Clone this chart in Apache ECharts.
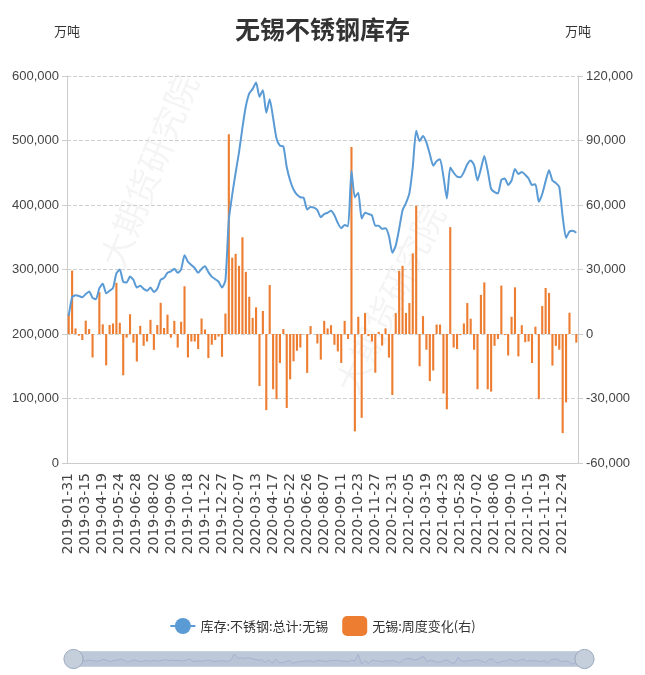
<!DOCTYPE html>
<html>
<head>
<meta charset="utf-8">
<script src="https://cdn.jsdelivr.net/npm/echarts@6/dist/echarts.min.js"></script>
<style>
  html, body {margin:0; padding:0; background:#fff;}
  #container {width:645px; height:675px;}
</style>
</head>
<body>
<div id="container"></div>
<script>
// weekly dates
var dates = [
  '2019-01-31','2019-02-15','2019-02-22','2019-03-01','2019-03-08',
  '2019-03-15','2019-03-22','2019-03-29','2019-04-04','2019-04-12',
  '2019-04-19','2019-04-26','2019-05-05','2019-05-10','2019-05-17',
  '2019-05-24','2019-05-31','2019-06-06','2019-06-14','2019-06-21',
  '2019-06-28','2019-07-05','2019-07-12','2019-07-19','2019-07-26',
  '2019-08-02','2019-08-09','2019-08-16','2019-08-23','2019-08-30',
  '2019-09-06','2019-09-12','2019-09-20','2019-09-27','2019-10-11',
  '2019-10-18','2019-10-25','2019-11-01','2019-11-08','2019-11-15',
  '2019-11-22','2019-11-29','2019-12-06','2019-12-13','2019-12-20',
  '2019-12-27','2020-01-03','2020-01-10','2020-01-17','2020-01-23',
  '2020-02-07','2020-02-14','2020-02-21','2020-02-28','2020-03-06',
  '2020-03-13','2020-03-20','2020-03-27','2020-04-03','2020-04-10',
  '2020-04-17','2020-04-24','2020-04-30','2020-05-08','2020-05-15',
  '2020-05-22','2020-05-29','2020-06-05','2020-06-12','2020-06-19',
  '2020-06-26','2020-07-03','2020-07-10','2020-07-17','2020-07-31',
  '2020-08-07','2020-08-14','2020-08-21','2020-08-28','2020-09-04',
  '2020-09-11','2020-09-18','2020-09-25','2020-09-30','2020-10-16',
  '2020-10-23','2020-10-30','2020-11-06','2020-11-13','2020-11-20',
  '2020-11-27','2020-12-04','2020-12-11','2020-12-18','2020-12-25',
  '2020-12-31','2021-01-08','2021-01-15','2021-01-22','2021-01-29',
  '2021-02-05','2021-02-19','2021-02-26','2021-03-05','2021-03-12',
  '2021-03-19','2021-03-26','2021-04-02','2021-04-09','2021-04-16',
  '2021-04-23','2021-04-30','2021-05-07','2021-05-14','2021-05-21',
  '2021-05-28','2021-06-04','2021-06-11','2021-06-18','2021-06-25',
  '2021-07-02','2021-07-09','2021-07-16','2021-07-23','2021-07-30',
  '2021-08-06','2021-08-13','2021-08-20','2021-08-27','2021-09-03',
  '2021-09-10','2021-09-17','2021-09-24','2021-09-30','2021-10-08',
  '2021-10-15','2021-10-22','2021-10-29','2021-11-05','2021-11-12',
  '2021-11-19','2021-11-26','2021-12-03','2021-12-10','2021-12-17',
  '2021-12-24','2021-12-31','2022-01-07','2022-01-14','2022-01-21'
];

// 库存:不锈钢:总计:无锡 (left axis)
var stock = [
  228000,257000,260000,259000,257000,262000,266000,256000,254000,271000,
  278000,263000,267000,271000,294000,300000,281000,280000,289000,284000,
  272000,275000,270000,267000,272000,265000,270000,284000,287000,295000,
  297000,301000,295000,300000,322000,312000,307000,302000,295000,301000,
  305000,296000,289000,285000,281000,272000,283000,377000,416000,450000,
  482000,520000,553000,573000,580000,590000,568000,578000,543000,564000,
  535000,503000,492000,491000,459000,438000,424000,416000,412000,411000,
  393000,397000,396000,392000,381000,386000,388000,391000,384000,372000,
  364000,369000,367000,453000,412000,419000,379000,388000,386000,384000,
  368000,368000,363000,364000,352000,326000,337000,363000,392000,403000,
  418000,459000,515000,499000,507000,497000,479000,461000,468000,471000,
  444000,410000,458000,450000,444000,443000,451000,463000,469000,462000,
  438000,456000,476000,453000,425000,420000,418000,439000,441000,431000,
  438000,456000,448000,451000,447000,441000,431000,432000,405000,417000,
  437000,454000,438000,434000,428000,382000,349000,359000,360000,357000
];

// 无锡:周度变化 (right axis)
var change = [
  9500,29500,2600,-800,-2800,6200,2300,-10900,0,19500,
  4500,-14600,4200,4900,23800,5200,-19200,-1700,9200,-4000,
  -12800,3800,-5500,-3500,6600,-7400,4200,14500,2800,9000,
  -1700,6100,-6300,5700,22200,-10900,-3500,-3500,-7000,7200,
  2100,-11200,-5000,-2800,-1200,-10600,9500,92900,35500,37300,
  31700,45000,28900,17300,7500,12400,-24200,10700,-35400,22800,
  -25700,-30300,-13500,2300,-34400,-21100,-12700,-7800,-6300,0,
  -18100,3700,0,-4400,-11900,6100,2600,4100,-5000,-8100,
  -13500,6100,-2300,87000,-45300,8000,-39000,9800,-1000,-3500,
  -18000,1000,-5400,2600,-11000,-28400,9700,29400,31700,9800,
  14400,37500,59600,-15000,8300,-7300,-21900,-17000,4400,4400,
  -27700,-35000,49700,-6300,-7000,-500,4900,14400,7100,-7300,
  -25700,18200,24000,-25700,-26800,-5500,-2300,22500,-500,-10000,
  8000,21700,-10400,4100,-3800,-3500,-13500,3400,-30300,13000,
  21400,19100,-14700,-5500,-7300,-46100,-31800,9900,0,-4000
];

var fmt = function (v) {
  return v.toLocaleString('en-US');
};

var myChart = echarts.init(document.getElementById('container'));
myChart.setOption({
  animation: false,
  textStyle: {fontFamily: 'Liberation Sans, Noto Sans CJK SC, sans-serif'},
  title: {
    text: '无锡不锈钢库存',
    left: 'center',
    top: 12,
    textStyle: {fontSize: 25, fontWeight: 'bold', color: '#333', fontFamily: 'Noto Sans CJK SC'}
  },
  graphic: [
    {
      type: 'text', left: 95, top: 70, rotation: Math.PI * 68 / 180, z: 0, silent: true,
      style: {text: '大期货研究院', fontSize: 34, fontFamily: 'Noto Sans CJK SC', fill: 'rgba(0,0,0,0.045)'}
    },
    {
      type: 'text', left: 330, top: 200, rotation: Math.PI * 64 / 180, z: 0, silent: true,
      style: {text: '大期货研究院', fontSize: 34, fontFamily: 'Noto Sans CJK SC', fill: 'rgba(0,0,0,0.045)'}
    }
  ],
  legend: {
    bottom: 34,
    left: 'center',
    itemGap: 14,
    itemWidth: 25,
    itemHeight: 20,
    textStyle: {fontSize: 13, color: '#333', fontFamily: 'Noto Sans CJK SC'},
    data: ['库存:不锈钢:总计:无锡', '无锡:周度变化(右)']
  },
  grid: {left: 67, right: 67, top: 76, bottom: 212},
  xAxis: {
    type: 'category',
    data: dates,
    boundaryGap: true,
    axisLine: {lineStyle: {color: '#ccc'}},
    axisTick: {
      length: 6,
      lineStyle: {color: '#ccc'},
      interval: function (index) { return index % 5 === 3; }
    },
    axisLabel: {interval: 4, rotate: 90, fontSize: 14, color: '#444', margin: 10, fontFamily: 'DejaVu Sans'}
  },
  yAxis: [
    {
      type: 'value',
      name: '万吨',
      nameGap: 38,
      nameTextStyle: {fontSize: 13, color: '#333', fontFamily: 'Noto Sans CJK SC'},
      min: 0, max: 600000, interval: 100000,
      axisLine: {show: true, lineStyle: {color: '#ccc'}},
      axisTick: {show: true, length: 5, lineStyle: {color: '#ccc'}},
      axisLabel: {formatter: fmt, fontSize: 13, color: '#444'},
      splitLine: {lineStyle: {type: 'dashed', color: '#d0d0d0'}}
    },
    {
      type: 'value',
      name: '万吨',
      nameGap: 38,
      nameTextStyle: {fontSize: 13, color: '#333', fontFamily: 'Noto Sans CJK SC'},
      min: -60000, max: 120000, interval: 30000,
      axisLine: {show: true, lineStyle: {color: '#ccc'}},
      axisTick: {show: true, length: 5, lineStyle: {color: '#ccc'}},
      axisLabel: {formatter: fmt, fontSize: 13, color: '#444'},
      splitLine: {show: false}
    }
  ],
  dataZoom: [
    {
      type: 'slider',
      xAxisIndex: 0,
      start: 0, end: 100,
      left: 70, right: 62, bottom: 8, height: 16,
      showDetail: false,
      borderColor: '#c9d1dd',
      backgroundColor: '#d5dce7',
      fillerColor: 'rgba(160,175,198,0.45)',
      handleIcon: 'circle',
      handleSize: '120%',
      handleStyle: {color: '#c5cfdc', borderColor: '#9aa9bf'},
      dataBackground: {lineStyle: {color: '#b8c3d3'}, areaStyle: {color: '#cfd7e3'}},
      moveHandleSize: 0
    }
  ],
  series: [
    {
      name: '无锡:周度变化(右)',
      type: 'bar',
      yAxisIndex: 1,
      data: change,
      barWidth: '62%',
      itemStyle: {color: '#ED7D31'}
    },
    {
      name: '库存:不锈钢:总计:无锡',
      type: 'line',
      yAxisIndex: 0,
      data: stock,
      smooth: 0.2,
      symbol: 'circle',
      symbolSize: 8,
      showSymbol: false,
      lineStyle: {width: 2, color: '#5B9BD5'},
      itemStyle: {color: '#5B9BD5'}
    }
  ]
});
</script>
</body>
</html>
